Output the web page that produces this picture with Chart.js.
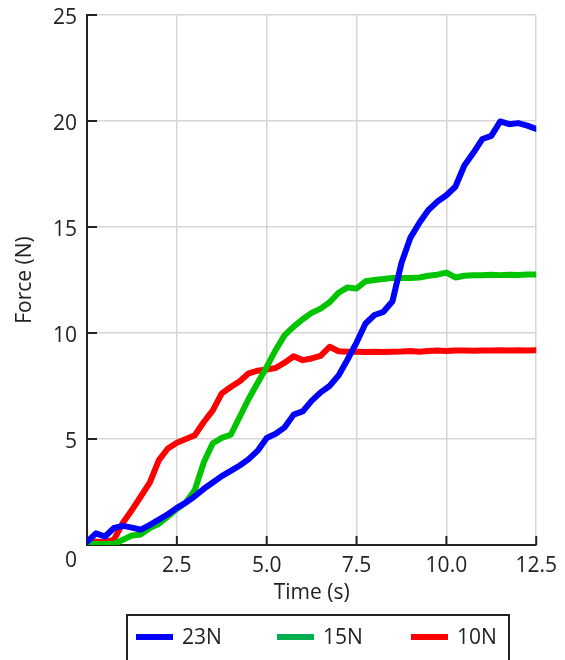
<!DOCTYPE html>
<html>
<head>
<meta charset="utf-8">
<script src="https://cdn.jsdelivr.net/npm/chart.js@4"></script>
<style>
  html, body { margin: 0; padding: 0; background: #ffffff; }
  #wrap { position: relative; width: 565px; height: 660px; }
</style>
</head>
<body>
<div id="wrap"><canvas id="c" width="565" height="660"></canvas></div>
<script>
// ---- data ----
const timeS = [0, 0.25, 0.5, 0.75, 1.0, 1.25, 1.5, 1.75, 2.0, 2.25, 2.5, 2.75, 3.0, 3.25, 3.5, 3.75,
  4.0, 4.25, 4.5, 4.75, 5.0, 5.25, 5.5, 5.75, 6.0, 6.25, 6.5, 6.75, 7.0, 7.25, 7.5, 7.75,
  8.0, 8.25, 8.5, 8.75, 9.0, 9.25, 9.5, 9.75, 10.0, 10.25, 10.5, 10.75, 11.0, 11.25, 11.5, 11.75,
  12.0, 12.25, 12.5];

const force23N = [0.15, 0.55, 0.4, 0.8, 0.9, 0.82, 0.72, 0.95, 1.2, 1.45, 1.75, 2.0, 2.3, 2.65, 2.95, 3.25,
  3.5, 3.75, 4.05, 4.45, 5.05, 5.25, 5.55, 6.15, 6.3, 6.8, 7.2, 7.5, 8.0, 8.75, 9.55, 10.45,
  10.85, 11.0, 11.5, 13.3, 14.5, 15.2, 15.8, 16.2, 16.5, 16.9, 17.9, 18.5, 19.15, 19.3, 19.98, 19.85,
  19.9, 19.78, 19.63];

const force15N = [0.05, 0.05, 0.05, 0.05, 0.25, 0.45, 0.5, 0.8, 1.0, 1.35, 1.7, 2.0, 2.6, 3.9, 4.8, 5.05,
  5.2, 6.05, 6.9, 7.65, 8.4, 9.2, 9.9, 10.3, 10.65, 10.95, 11.15, 11.45, 11.9, 12.15, 12.1, 12.44,
  12.5, 12.55, 12.6, 12.6, 12.6, 12.62, 12.7, 12.75, 12.85, 12.62, 12.7, 12.72, 12.72, 12.75, 12.73, 12.75,
  12.74, 12.76, 12.76];

const force10N = [0.15, 0.15, 0.15, 0.25, 1.05, 1.65, 2.3, 2.95, 4.0, 4.55, 4.82, 5.0, 5.18, 5.8, 6.35, 7.15,
  7.45, 7.72, 8.1, 8.22, 8.28, 8.35, 8.6, 8.9, 8.72, 8.8, 8.92, 9.35, 9.14, 9.12, 9.12, 9.1,
  9.12, 9.1, 9.12, 9.13, 9.15, 9.12, 9.15, 9.17, 9.15, 9.17, 9.18, 9.16, 9.18, 9.17, 9.19, 9.18,
  9.19, 9.18, 9.19];

const seriesLabels = ['23N', '15N', '10N'];
const lineColors = ['#0000ff', '#00c400', '#ff0000'];
const legendColors = ['#0000ff', '#00b050', '#ff0000'];
const xTitle = 'Time (s)';
const yTitle = 'Force (N)';

const FONT = "'Open Sans', 'DejaVu Sans', sans-serif";
const FS = 21;
const TXT = '#222222';

function pts(ys) { return timeS.map((t, i) => ({ x: t, y: ys[i] })); }

const inwardTicks = {
  id: 'inwardTicks',
  beforeDatasetsDraw(chart) {
    const ctx = chart.ctx;
    const xs = chart.scales.x, ys = chart.scales.y;
    ctx.save();
    ctx.strokeStyle = TXT;
    ctx.lineWidth = 2;
    xs.ticks.forEach(t => {
      const px = xs.getPixelForValue(t.value);
      if (t.value === 0) return;
      ctx.beginPath();
      ctx.moveTo(px, xs.top);
      ctx.lineTo(px, xs.top - 9);
      ctx.stroke();
    });
    ys.ticks.forEach(t => {
      const py = ys.getPixelForValue(t.value);
      if (t.value === 0) return;
      ctx.beginPath();
      ctx.moveTo(ys.right, py);
      ctx.lineTo(ys.right + 10, py);
      ctx.stroke();
    });
    ctx.restore();
  }
};

const boxedLegend = {
  id: 'boxedLegend',
  afterDraw(chart) {
    const ctx = chart.ctx;
    const itemX = [136, 277, 411];
    const lineLen = 37;
    const cy = 637;
    ctx.save();
    ctx.strokeStyle = TXT;
    ctx.lineWidth = 2;
    ctx.strokeRect(127, 615, 382, 60);
    ctx.font = FS + 'px ' + FONT;
    ctx.textBaseline = 'middle';
    ctx.textAlign = 'left';
    chart.data.datasets.forEach((ds, i) => {
      ctx.fillStyle = legendColors[i];
      ctx.fillRect(itemX[i], cy - 3, lineLen, 6);
      ctx.fillStyle = TXT;
      ctx.fillText(ds.label, itemX[i] + lineLen + 9, cy + 1);
    });
    ctx.restore();
  }
};

new Chart(document.getElementById('c'), {
  type: 'line',
  data: {
    datasets: seriesLabels.map((lab, i) => ({
      label: lab,
      data: pts([force23N, force15N, force10N][i]),
      borderColor: lineColors[i],
      backgroundColor: lineColors[i],
      borderWidth: 6,
      pointRadius: 0,
      tension: 0,
      borderJoinStyle: 'round',
      borderCapStyle: 'round',
      fill: false
    }))
  },
  options: {
    responsive: false,
    animation: false,
    devicePixelRatio: 1,
    layout: { padding: { top: 15, right: 27, bottom: 54, left: 0 } },
    plugins: {
      legend: { display: false },
      tooltip: { enabled: false }
    },
    scales: {
      x: {
        type: 'linear',
        min: 0, max: 12.5,
        afterFit(s) { s.height = 61; },
        grid: { color: '#d6d6d6', lineWidth: 1.5, drawTicks: false },
        border: { color: TXT, width: 2 },
        ticks: {
          stepSize: 2.5,
          padding: 8,
          color: TXT,
          font: { family: FONT, size: FS },
          maxRotation: 0,
          callback: v => (v === 0 ? '' : v.toFixed(1))
        },
        title: {
          display: true, text: xTitle, color: TXT,
          font: { family: FONT, size: FS },
          padding: { top: 0, bottom: 0 }
        }
      },
      y: {
        min: 0, max: 25,
        afterFit(s) { s.width = 87; s.paddingTop = 0; s.paddingBottom = 0; },
        grid: { color: '#d6d6d6', lineWidth: 1.5, drawTicks: false },
        border: { color: TXT, width: 2 },
        ticks: {
          stepSize: 5,
          padding: 10,
          labelOffset: 3,
          color: TXT,
          font: { family: FONT, size: FS },
          callback: v => (v === 0 ? ['', '0'] : String(v))
        },
        title: {
          display: true, text: yTitle, color: TXT,
          font: { family: FONT, size: FS },
          padding: { top: 12, bottom: 0 }
        }
      }
    }
  },
  plugins: [inwardTicks, boxedLegend]
});
</script>
</body>
</html>
